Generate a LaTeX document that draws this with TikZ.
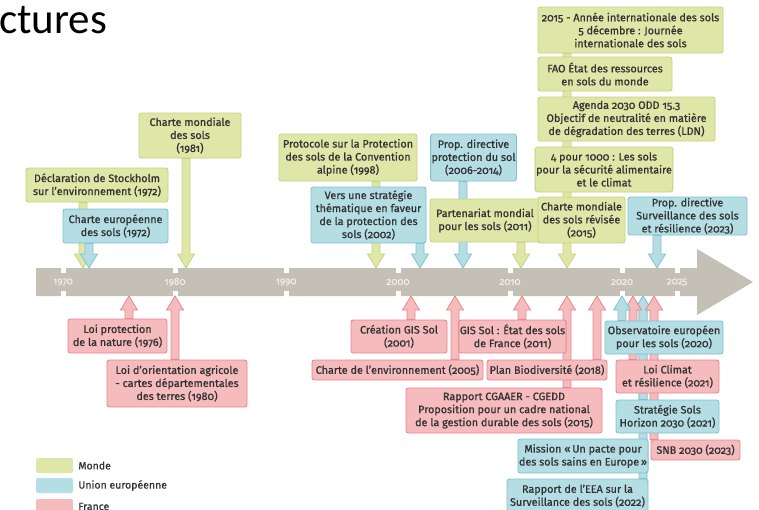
\documentclass[tikz,border=0pt]{standalone}
\usepackage{fontspec}
\setmainfont{Fira Sans}[Numbers=OldStyle,FakeBold=0.8]
\newfontfamily\titlefont{Carlito}
\usetikzlibrary{calc,positioning}

\definecolor{mondeFill}{RGB}{222,231,168}
\definecolor{mondeLine}{RGB}{196,211,124}
\definecolor{ueFill}{RGB}{180,221,228}
\definecolor{ueLine}{RGB}{128,195,207}
\definecolor{frFill}{RGB}{245,187,189}
\definecolor{frLine}{RGB}{228,136,142}
\definecolor{barGray}{RGB}{196,192,182}
\definecolor{yearTxt}{RGB}{240,237,230}
\definecolor{txtGray}{RGB}{50,50,50}

\pgfdeclarelayer{bar}
\pgfdeclarelayer{arrows}
\pgfsetlayers{bar,arrows,main}

% block arrows: #1 style, #2 start on the box, #3 tip on the bar
\newcommand\arrdown[3]{%
  \path[#1] let \p1=(#2), \p2=(#3) in
    (\x2-4pt,\y1) -- (\x2-4pt,\y2+14pt) -- (\x2-8.5pt,\y2+14pt) -- (\x2,\y2)
    -- (\x2+8.5pt,\y2+14pt) -- (\x2+4pt,\y2+14pt) -- (\x2+4pt,\y1) -- cycle;}
\newcommand\arrup[3]{%
  \path[#1] let \p1=(#2), \p2=(#3) in
    (\x2-4pt,\y1) -- (\x2-4pt,\y2-14pt) -- (\x2-8.5pt,\y2-14pt) -- (\x2,\y2)
    -- (\x2+8.5pt,\y2-14pt) -- (\x2+4pt,\y2-14pt) -- (\x2+4pt,\y1) -- cycle;}

\begin{document}
\begin{tikzpicture}[x=1pt,y=-1pt,line join=miter,
  box/.style={rounded corners=2.5pt,line width=0.9pt,inner sep=1pt,align=center,
    text=txtGray,font=\fontsize{10.8}{13}\selectfont},
  monde/.style={box,fill=mondeFill,draw=mondeLine},
  ue/.style={box,fill=ueFill,draw=ueLine},
  fr/.style={box,fill=frFill,draw=frLine},
  mondearr/.style={fill=mondeFill,draw=mondeLine,line width=0.8pt},
  uearr/.style={fill=ueFill,draw=ueLine,line width=0.8pt},
  frarr/.style={fill=frFill,draw=frLine,line width=0.8pt},
  notch/.style={fill=white},
  yearlbl/.style={text=yearTxt,font=\fontsize{10}{10}\selectfont},
  legsw/.style={rounded corners=2pt,minimum width=37pt,minimum height=15pt,inner sep=0pt},
  legtxt/.style={font=\fontsize{10.5}{10.5}\selectfont,text=black!80,inner sep=0pt}]
  \clip (0,0) rectangle (759,509);

  \node[anchor=base west,inner sep=0pt,font=\titlefont\fontsize{43}{43}\selectfont] (titre) at (-1,33) {ctures};

  % points on the timeline
  \coordinate (up1972a) at (83,268);
  \coordinate (up1972b) at (89,268);
  \coordinate (up1981) at (186,268);
  \coordinate (up1998) at (376,268);
  \coordinate (up2002) at (420,268);
  \coordinate (up2006) at (463,268);
  \coordinate (up2011) at (521,268);
  \coordinate (up2015) at (567,268);
  \coordinate (up2023) at (657,268);

  \coordinate (lo1976) at (129,296);
  \coordinate (lo1980) at (175,296);
  \coordinate (lo2001) at (411,296);
  \coordinate (lo2005) at (455,296);
  \coordinate (lo2011) at (522,296);
  \coordinate (lo2015) at (567,296);
  \coordinate (lo2018) at (597,296);
  \coordinate (lo2020) at (622,296);
  \coordinate (lo2021a) at (633,296);
  \coordinate (lo2021b) at (643,296);
  \coordinate (lo2023) at (654,296);

  \begin{pgfonlayer}{bar}
    \fill[barGray] (36,268) -- (697,268) -- (697,249) -- (753,282) -- (697,315)
      -- (697,296) -- (36,296) -- cycle;
    \foreach \x/\yr in {63/1970,175/1980,286/1990,398/2000,510/2010,622/2020,677/2025} {
      \fill[notch] (\x-2.5,267) rectangle (\x+2.5,273);
      \fill[notch] (\x-2.5,291) rectangle (\x+2.5,297);
      \node[yearlbl] (y\yr) at (\x,282) {\yr};
    }
  \end{pgfonlayer}

  % Monde
  \node[monde,minimum width=102pt,minimum height=45pt] (charte81) at (190,135.5) {Charte mondiale\\des sols\\(1981)};
  \node[monde,minimum width=142pt,minimum height=34pt] (stockholm) at (97,185) {Déclaration de Stockholm\\sur l’environnement (1972)};
  \node[monde,minimum width=138pt,minimum height=47pt] (protocole) at (348,157.5) {Protocole sur la Protection\\des sols de la Convention\\alpine (1998)};
  \node[monde,minimum width=110pt,minimum height=43pt] (partenariat) at (485,220.5) {Partenariat mondial\\pour les sols (2011)};
  \node[monde,minimum width=185pt,minimum height=46pt] (annee2015) at (630.5,30) {2015 - Année internationale des sols\\5 décembre : Journée\\internationale des sols};
  \node[monde,minimum width=134pt,minimum height=34pt] (fao) at (605,74) {FAO État des ressources\\en sols du monde};
  \node[monde,minimum width=177pt,minimum height=44pt] (agenda) at (626.5,119) {Agenda 2030 ODD 15.3\\Objectif de neutralité en matière\\de dégradation des terres (LDN)};
  \node[monde,minimum width=132pt,minimum height=45pt] (pour1000) at (604,169.5) {4 pour 1000 : Les sols\\pour la sécurité alimentaire\\et le climat};
  \node[monde,minimum width=87pt,minimum height=46pt] (charte15) at (581.5,220) {Charte mondiale\\des sols révisée\\(2015)};

  % Union europeenne
  \node[ue,minimum width=105pt,minimum height=34pt] (charteeu) at (115.5,226) {Charte européenne\\des sols (1972)};
  \node[ue,minimum width=115pt,minimum height=56pt] (strategie02) at (368.5,215) {Vers une stratégie\\thématique en faveur\\de la protection des\\sols (2002)};
  \node[ue,minimum width=83pt,minimum height=47pt] (propdir06) at (473.5,157.5) {Prop. directive\\protection du sol\\(2006-2014)};
  \node[ue,minimum width=119pt,minimum height=38pt] (propdir23) at (687.5,216) {Prop. directive\\Surveillance des sols\\et résilience (2023)};
  \node[ue,minimum width=118pt,minimum height=33pt] (observatoire) at (664,337.5) {Observatoire européen\\pour les sols (2020)};
  \node[ue,minimum width=103pt,minimum height=33pt] (strat21) at (667.5,416.5) {Stratégie Sols\\Horizon 2030 (2021)};
  \node[ue,minimum width=130pt,minimum height=34pt] (mission) at (583,456) {Mission «\,Un pacte pour\\des sols sains en Europe\,»};
  \node[ue,minimum width=141pt,minimum height=34pt] (eea) at (577.5,496) {Rapport de l’EEA sur la\\Surveillance des sols (2022)};

  % France
  \node[fr,minimum width=99pt,minimum height=34pt] (loi76) at (117.5,336) {Loi protection\\de la nature (1976)};
  \node[fr,minimum width=140pt,minimum height=47pt] (loi80) at (177,383.5) {Loi d’orientation agricole\\- cartes départementales\\des terres (1980)};
  \node[fr,minimum width=96pt,minimum height=33pt] (gis01) at (399,336.5) {Création GIS Sol\\(2001)};
  \node[fr,minimum width=171pt,minimum height=20pt] (charteenv) at (397.5,370) {Charte de l’environnement (2005)};
  \node[fr,minimum width=101pt,minimum height=33pt] (gis11) at (512.5,336.5) {GIS Sol : État des sols\\de France (2011)};
  \node[fr,minimum width=120pt,minimum height=20pt] (plan18) at (547,370) {Plan Biodiversité (2018)};
  \node[fr,minimum width=196pt,minimum height=45pt] (rapport15) at (504,410.5) {Rapport CGAAER - CGEDD\\Proposition pour un cadre national\\de la gestion durable des sols (2015)};
  \node[fr,minimum width=103pt,minimum height=33pt] (loiclimat) at (667.5,376.5) {Loi Climat\\et résilience (2021)};
  \node[fr,minimum width=89pt,minimum height=20pt] (snb) at (695.5,450) {SNB 2030 (2023)};

  \begin{pgfonlayer}{arrows}
    \arrdown{mondearr}{up1972a |- stockholm.south}{up1972a}
    \arrdown{uearr}{up1972b |- charteeu.south}{up1972b}
    \arrdown{mondearr}{up1981 |- charte81.south}{up1981}
    \arrdown{mondearr}{up1998 |- protocole.south}{up1998}
    \arrdown{uearr}{up2002 |- strategie02.south}{up2002}
    \arrdown{uearr}{up2006 |- propdir06.south}{up2006}
    \arrdown{mondearr}{up2011 |- partenariat.south}{up2011}
    \arrdown{mondearr}{up2015 |- annee2015.south}{up2015}
    \arrdown{uearr}{up2023 |- propdir23.south}{up2023}

    \arrup{frarr}{lo1976 |- loi76.north}{lo1976}
    \arrup{frarr}{lo1980 |- loi80.north}{lo1980}
    \arrup{frarr}{lo2001 |- gis01.north}{lo2001}
    \arrup{frarr}{lo2005 |- charteenv.north}{lo2005}
    \arrup{frarr}{lo2011 |- gis11.north}{lo2011}
    \arrup{frarr}{lo2015 |- rapport15.north}{lo2015}
    \arrup{frarr}{lo2018 |- plan18.north}{lo2018}
    \arrup{uearr}{lo2021b |- eea.north}{lo2021b}
    \arrup{uearr}{lo2021b |- strat21.north}{lo2021b}
    \arrup{frarr}{lo2023 |- snb.north}{lo2023}
    \arrup{frarr}{lo2021a |- loiclimat.north}{lo2021a}
    \arrup{uearr}{lo2020 |- observatoire.north}{lo2020}
  \end{pgfonlayer}

  % legende
  \node[legsw,fill=mondeFill] (legmonde) at (54.5,465.5) {};
  \node[legsw,fill=ueFill] (legue) at (54.5,485.5) {};
  \node[legsw,fill=frFill] (legfr) at (54.5,506.5) {};
  \node[legtxt,right=5pt of legmonde] (txtmonde) {Monde};
  \node[legtxt,right=5pt of legue] (txtue) {Union européenne};
  \node[legtxt,right=5pt of legfr] (txtfr) {France};
\end{tikzpicture}
\end{document}
